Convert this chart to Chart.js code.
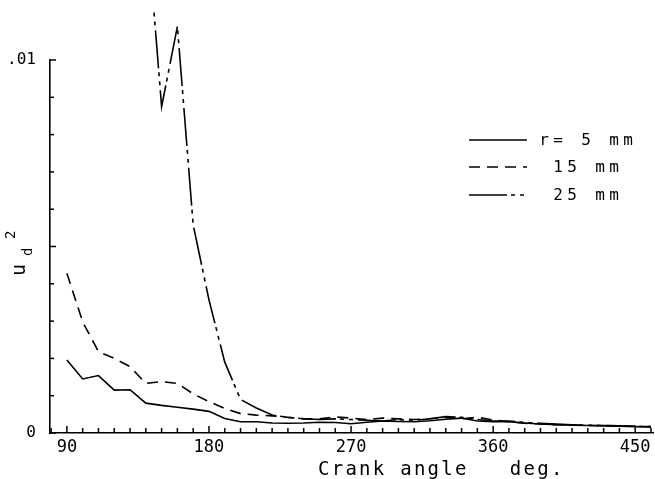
<!DOCTYPE html>
<html><head><meta charset="utf-8">
<script src="https://cdn.jsdelivr.net/npm/chart.js@4/dist/chart.umd.min.js"></script>
<style>html,body{margin:0;padding:0;background:#fff}#wrap{width:655px;height:479px}</style>
</head><body><div id="wrap"><canvas id="c" width="655" height="479"></canvas></div>
<script>
// Crank angle (deg)
const angles = [90,100,110,120,130,140,150,160,170,180,190,200,210,220,230,240,250,260,270,280,290,300,310,320,330,340,350,360,370,380,390,400,410,420,430,440,450,460];
// u_d^2 for r = 5 mm
const r5 = [0.00196,0.00145,0.00154,0.00115,0.00116,0.00080,0.00074,0.00069,0.00064,0.00058,0.00039,0.00030,0.00030,0.00027,0.00026,0.00027,0.00029,0.00028,0.00025,0.00029,0.00032,0.00031,0.00030,0.00033,0.00037,0.00040,0.00032,0.00030,0.00030,0.00027,0.00024,0.00022,0.00021,0.00020,0.00019,0.00018,0.00017,0.00016];
// u_d^2 for r = 15 mm
const r15 = [0.00428,0.00298,0.00218,0.00200,0.00178,0.00133,0.00138,0.00133,0.00105,0.00084,0.00066,0.00052,0.00048,0.00046,0.00042,0.00038,0.00038,0.00043,0.00040,0.00036,0.00040,0.00038,0.00036,0.00038,0.00042,0.00038,0.00042,0.00035,0.00030,0.00026,0.00024,0.00022,0.00022,0.00020,0.00020,0.00019,0.00018,0.00017];
// u_d^2 for r = 25 mm
const r25 = [null,null,null,null,null,0.0140,0.00875,0.0109,0.00558,0.00357,0.00190,0.00090,0.00067,0.00048,0.00042,0.00038,0.00036,0.00038,0.00036,0.00034,0.00032,0.00036,0.00034,0.00038,0.00044,0.00042,0.00036,0.00032,0.00032,0.00028,0.00026,0.00024,0.00022,0.00021,0.00020,0.00019,0.00018,0.00017];
const seriesNames = ['r= 5 mm', ' 15 mm', ' 25 mm'];
const xLabelValues = [90,180,270,360,450];
const yLabelValues = [0, 0.01];
const yLabelTexts = ['0', '.01'];
const xTitle = 'Crank angle   deg.';

const MONO = '"DejaVu Sans Mono", "Liberation Mono", monospace';
const dashes = [[], [11,7], [38,4,4,5,4,5]];

function pts(arr){ return angles.map((a,i)=>({x:a,y:arr[i]})); }

const overlay = {
  id:'overlay',
  afterDraw(chart){
    const ctx = chart.ctx, xs = chart.scales.x, ys = chart.scales.y, ca = chart.chartArea;
    ctx.save();
    ctx.strokeStyle = '#000'; ctx.lineWidth = 1.5; ctx.setLineDash([]);
    // inward x ticks
    xs.ticks.forEach(t=>{
      const v = Math.round(t.value);
      if (v % 10 !== 0) return;
      const px = xs.getPixelForValue(t.value);
      const len = (v % 90 === 0) ? 7 : 5;
      ctx.beginPath(); ctx.moveTo(px, ca.bottom); ctx.lineTo(px, ca.bottom - len); ctx.stroke();
    });
    // inward y ticks
    ys.ticks.forEach(t=>{
      const py = ys.getPixelForValue(t.value);
      const k = Math.round(t.value*1000);
      const len = (k % 5 === 0) ? 6 : 4;
      ctx.beginPath(); ctx.moveTo(ca.left, py); ctx.lineTo(ca.left + len, py); ctx.stroke();
    });
    // x title, fixed pitch
    ctx.fillStyle = '#000';
    ctx.font = '19px ' + MONO;
    ctx.textAlign = 'left'; ctx.textBaseline = 'alphabetic';
    for (let i=0;i<xTitle.length;i++){ ctx.fillText(xTitle[i], 318 + i*13.7, 475); }
    // y title u_d^2 rotated
    ctx.save();
    ctx.translate(25, 276); ctx.rotate(-Math.PI/2);
    ctx.font = '20px ' + MONO; ctx.fillText('u', 0, 0);
    ctx.font = '14px ' + MONO; ctx.fillText('d', 20, 7);
    ctx.font = '14px ' + MONO; ctx.fillText('2', 37, -10);
    ctx.restore();
    // legend
    const rowsY = [140, 167, 195];
    chart.data.datasets.forEach((ds, i)=>{
      const y = rowsY[i];
      ctx.setLineDash(ds.borderDash || []);
      ctx.lineWidth = 1.6;
      ctx.beginPath(); ctx.moveTo(469, y); ctx.lineTo(527, y); ctx.stroke();
      ctx.setLineDash([]);
      ctx.font = '16px ' + MONO; ctx.textAlign = 'center'; ctx.textBaseline = 'middle';
      const s = seriesNames[i];
      for (let j=0;j<s.length;j++){ ctx.fillText(s[j], 544 + j*14, y + 1); }
    });
    ctx.restore();
  }
};

new Chart(document.getElementById('c'), {
  type:'line',
  data:{ datasets:[
    {label:seriesNames[0], data:pts(r5), borderColor:'#000', borderWidth:1.6, borderDash:dashes[0]},
    {label:seriesNames[1], data:pts(r15), borderColor:'#000', borderWidth:1.6, borderDash:dashes[1]},
    {label:seriesNames[2], data:pts(r25), borderColor:'#000', borderWidth:1.6, borderDash:dashes[2]}
  ]},
  options:{
    responsive:false, animation:false,
    layout:{padding:{top:60, right:0, left:0, bottom:0}},
    elements:{point:{radius:0}, line:{tension:0, fill:false}},
    datasets:{line:{clip:{left:0, top:49, right:0, bottom:0}, spanGaps:false}},
    plugins:{legend:{display:false}, tooltip:{enabled:false}},
    scales:{
      x:{type:'linear', min:79.3, max:461.4,
        afterFit(s){ s.height = 46; },
        ticks:{stepSize:10, includeBounds:false, autoSkip:false, maxRotation:0, padding:4,
          color:'#000', font:{family:MONO, size:17},
          callback(v){ const r=Math.round(v); return xLabelValues.includes(r) ? String(r) : ''; }},
        grid:{drawOnChartArea:false, drawTicks:false},
        border:{display:true, color:'#000', width:1.6}
      },
      y:{type:'linear', min:0, max:0.01,
        afterFit(s){ s.width = 50; },
        ticks:{stepSize:0.001, autoSkip:false, padding:14, color:'#000', font:{family:MONO, size:16},
          callback(v){ for(let i=0;i<yLabelValues.length;i++){ if (Math.abs(v-yLabelValues[i])<1e-9) return yLabelTexts[i]; } return ''; }},
        grid:{drawOnChartArea:false, drawTicks:false},
        border:{display:true, color:'#000', width:1.6}
      }
    }
  },
  plugins:[overlay]
});
</script></body></html>
